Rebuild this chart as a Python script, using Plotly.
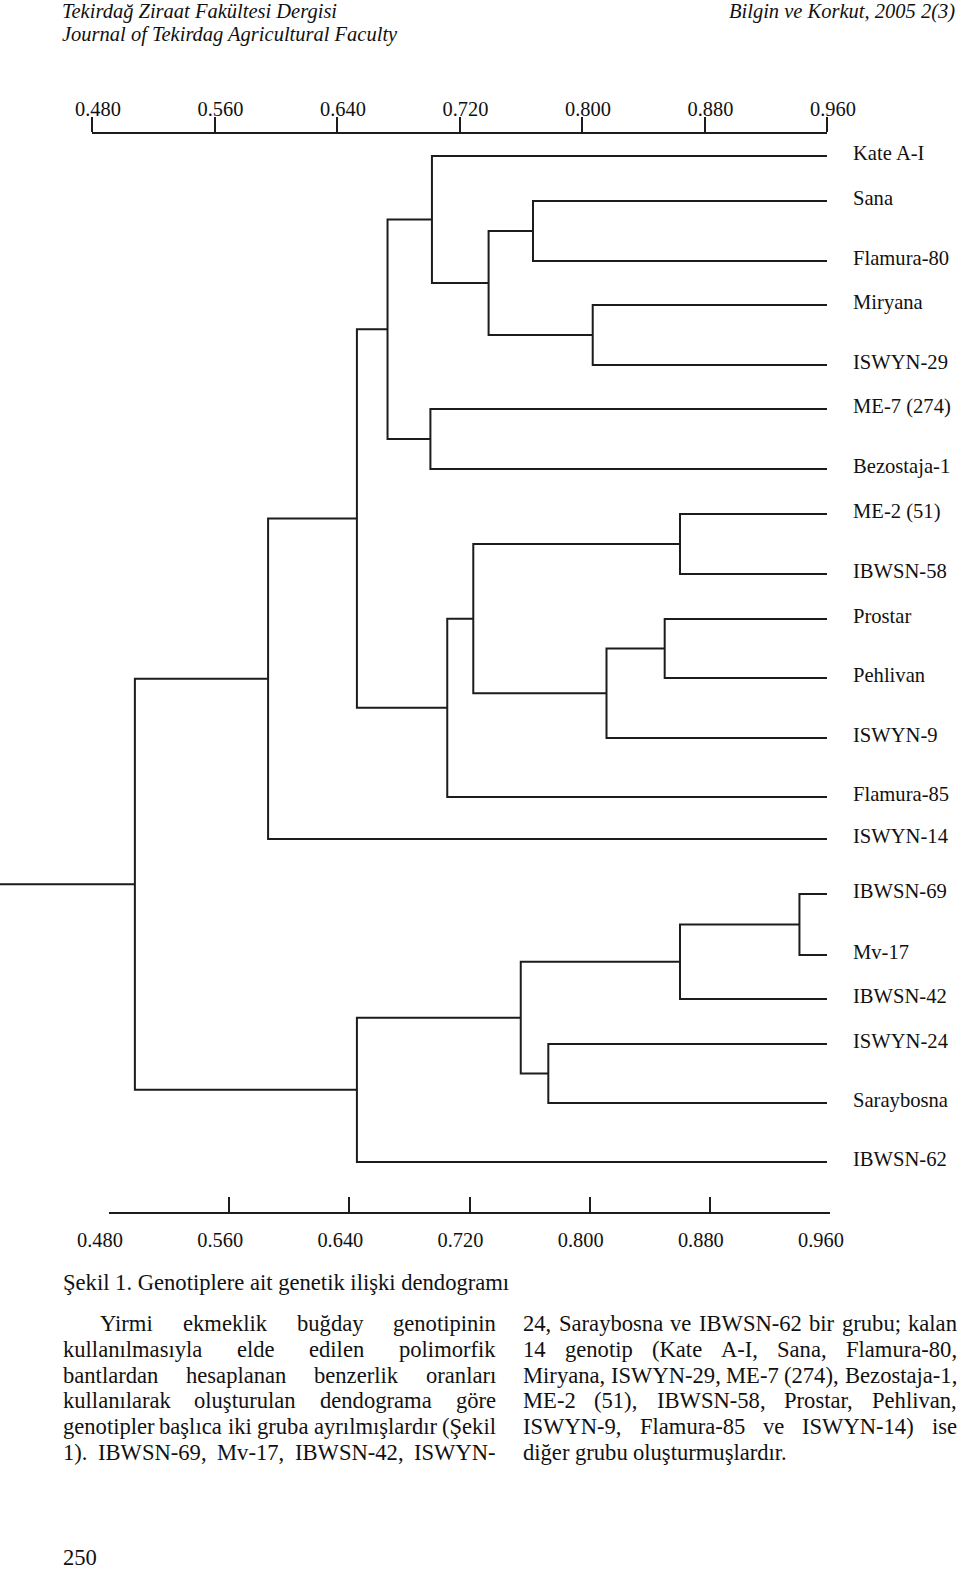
import plotly.graph_objects as go

# ---------------- data ----------------
LEAF_NAMES = ["Kate A-I", "Sana", "Flamura-80", "Miryana", "ISWYN-29", "ME-7 (274)",
              "Bezostaja-1", "ME-2 (51)", "IBWSN-58", "Prostar", "Pehlivan", "ISWYN-9",
              "Flamura-85", "ISWYN-14", "IBWSN-69", "Mv-17", "IBWSN-42", "ISWYN-24",
              "Saraybosna", "IBWSN-62"]
LEAF_SIM = 0.960  # similarity at which leaf branches end

# merges: left child, right child, similarity ("#k" = k-th merge)
MERGE_LEFT = ["Sana", "Miryana", "#0", "Kate A-I", "ME-7 (274)", "#3", "ME-2 (51)",
              "Prostar", "#7", "#6", "#9", "#5", "#11", "IBWSN-69", "#13", "ISWYN-24",
              "#14", "#16", "#12"]
MERGE_RIGHT = ["Flamura-80", "ISWYN-29", "#1", "#2", "Bezostaja-1", "#4", "IBWSN-58",
               "Pehlivan", "ISWYN-9", "#8", "Flamura-85", "#10", "ISWYN-14", "Mv-17",
               "IBWSN-42", "Saraybosna", "#15", "IBWSN-62", "#17"]
MERGE_SIM = [0.768, 0.807, 0.739, 0.702, 0.701, 0.673, 0.864, 0.854, 0.816, 0.729,
             0.712, 0.653, 0.595, 0.942, 0.864, 0.778, 0.760, 0.653, 0.508]

TICK_VALS = [0.48, 0.56, 0.64, 0.72, 0.80, 0.88, 0.96]
TICK_TEXT = ["0.480", "0.560", "0.640", "0.720", "0.800", "0.880", "0.960"]

HEADER_LEFT = ["Tekirdağ Ziraat Fakültesi Dergisi", "Journal of Tekirdag Agricultural Faculty"]
HEADER_RIGHT = "Bilgin ve Korkut, 2005 2(3)"
CAPTION = "Şekil 1. Genotiplere ait genetik ilişki dendogramı"
COL_LEFT = ["Yirmi ekmeklik buğday genotipinin",
            "kullanılmasıyla elde edilen polimorfik",
            "bantlardan hesaplanan benzerlik oranları",
            "kullanılarak oluşturulan dendograma göre",
            "genotipler başlıca iki gruba ayrılmışlardır (Şekil",
            "1). IBWSN-69, Mv-17, IBWSN-42, ISWYN-"]
COL_RIGHT = ["24, Saraybosna ve IBWSN-62 bir grubu; kalan",
             "14 genotip (Kate A-I, Sana, Flamura-80,",
             "Miryana, ISWYN-29, ME-7 (274), Bezostaja-1,",
             "ME-2 (51), IBWSN-58, Prostar, Pehlivan,",
             "ISWYN-9, Flamura-85 ve ISWYN-14) ise",
             "diğer grubu oluşturmuşlardır."]
PAGE_NO = "250"

# ---------------- layout constants ----------------
W, H = 960, 1571
LEAF_ROW_PX = [156, 201, 261, 305, 365, 409, 469, 514, 574, 619, 678, 738, 797, 839,
               894, 955, 999, 1044, 1103, 1162]
TOP_AXIS_PX = (92, 827, 133)      # x of 0.48, x of 0.96, y of axis line
BOT_AXIS_PX = (109, 830, 1213)
BODY_ROWS_PX = [1323, 1349, 1375, 1400, 1426, 1452]
COL_LEFT_SPAN = (62.5, 496)
COL_RIGHT_SPAN = (523, 957)
INDENT = 37
SERIF = "Liberation Serif, Times New Roman, serif"
INK = "#1c1c1c"
TXT = "#111111"
BODY_FS = 22.6

# Times (Liberation Serif) advance widths, 1/1000 em
_TW = {" ": 250, "!": 333, "(": 333, ")": 333, ",": 250, "-": 333, ".": 250, ":": 278,
       ";": 278, "A": 722, "B": 667, "C": 667, "D": 722, "E": 611, "F": 556, "G": 722,
       "H": 722, "I": 333, "J": 389, "K": 722, "L": 611, "M": 889, "N": 722, "O": 722,
       "P": 556, "Q": 722, "R": 667, "S": 556, "T": 611, "U": 722, "V": 722, "W": 944,
       "X": 722, "Y": 722, "Z": 611, "a": 444, "b": 500, "c": 444, "d": 500, "e": 444,
       "f": 333, "g": 500, "h": 500, "i": 278, "j": 278, "k": 500, "l": 278, "m": 778,
       "n": 500, "o": 500, "p": 500, "q": 500, "r": 333, "s": 389, "t": 278, "u": 500,
       "v": 500, "w": 722, "x": 500, "y": 500, "z": 444, "ğ": 500, "ş": 389, "ı": 278,
       "ö": 500, "ü": 500, "Ş": 556, "ç": 444, "İ": 333}
for _d in "0123456789":
    _TW[_d] = 500


def text_w(s, fs):
    return sum(_TW.get(c, 500) for c in s) * fs / 1000.0


px_per = (TOP_AXIS_PX[1] - TOP_AXIS_PX[0]) / (TICK_VALS[-1] - TICK_VALS[0])
X_MIN = TICK_VALS[0] - TOP_AXIS_PX[0] / px_per
X_MAX = TICK_VALS[0] + (W - TOP_AXIS_PX[0]) / px_per


def py(p):
    return 1 - p / H


# ---------------- dendrogram geometry from tree ----------------
leaf_y = dict(zip(LEAF_NAMES, LEAF_ROW_PX))
node_y, node_x = [], []


def child_pos(c):
    if c.startswith("#"):
        k = int(c[1:])
        return node_x[k], node_y[k]
    return LEAF_SIM, leaf_y[c]


xs, ys = [], []
for a, b, s in zip(MERGE_LEFT, MERGE_RIGHT, MERGE_SIM):
    (xa, ya), (xb, yb) = child_pos(a), child_pos(b)
    ym = (ya + yb) / 2
    xs += [xa, s, s, xb, None]
    ys += [ya, ya, yb, yb, None]
    node_x.append(s)
    node_y.append(ym)
# root stub
xs += [node_x[-1], X_MIN, None]
ys += [node_y[-1], node_y[-1], None]

fig = go.Figure()
# dummy traces to register the two scale axes
fig.add_trace(go.Scatter(x=TICK_VALS, y=[None] * len(TICK_VALS), xaxis="x2",
                         mode="markers", showlegend=False, hoverinfo="skip"))
fig.add_trace(go.Scatter(x=TICK_VALS, y=[None] * len(TICK_VALS), xaxis="x3",
                         mode="markers", showlegend=False, hoverinfo="skip"))
fig.add_trace(go.Scatter(x=xs, y=ys, mode="lines", line=dict(color=INK, width=2),
                         hoverinfo="skip", showlegend=False, cliponaxis=False))

ann = []
# leaf labels
for name in LEAF_NAMES:
    ann.append(dict(x=LEAF_SIM, y=leaf_y[name], xref="x", yref="y", text=name,
                    showarrow=False, xanchor="left", yanchor="middle", xshift=24, yshift=3,
                    font=dict(family=SERIF, size=20.6, color=TXT)))

# header
hdr_font = dict(family=SERIF, size=20.5, color=TXT)
for i, t in enumerate(HEADER_LEFT):
    ann.append(dict(x=60 / W, y=py(11 + 23 * i), xref="paper", yref="paper",
                    text="<i>%s</i>" % t, showarrow=False,
                    xanchor="left", yanchor="middle", font=hdr_font))
ann.append(dict(x=957 / W, y=py(11), xref="paper", yref="paper",
                text="<i>%s</i>" % HEADER_RIGHT, showarrow=False,
                xanchor="right", yanchor="middle", font=hdr_font))

body_font = dict(family=SERIF, size=BODY_FS, color=TXT)
ann.append(dict(x=60.5 / W, y=py(1282), xref="paper", yref="paper", text=CAPTION,
                showarrow=False, xanchor="left", yanchor="middle", font=body_font))


def add_justified(lines, span, indent_first, last_justified):
    for i, line in enumerate(lines):
        x0 = span[0] + (INDENT if (i == 0 and indent_first) else 0)
        x1 = span[1]
        words = line.split(" ")
        justify = (i < len(lines) - 1) or last_justified
        if justify and len(words) > 1:
            tot = sum(text_w(w, BODY_FS) for w in words)
            gap = (x1 - x0 - tot) / (len(words) - 1)
        else:
            gap = text_w(" ", BODY_FS)
        x = x0
        for w in words:
            ann.append(dict(x=(x - 2) / W, y=py(BODY_ROWS_PX[i]), xref="paper",
                            yref="paper", text=w, showarrow=False, xanchor="left",
                            yanchor="middle", font=body_font))
            x += text_w(w, BODY_FS) + gap


add_justified(COL_LEFT, COL_LEFT_SPAN, True, True)
add_justified(COL_RIGHT, COL_RIGHT_SPAN, False, False)

ann.append(dict(x=60.5 / W, y=py(1557), xref="paper", yref="paper", text=PAGE_NO,
                showarrow=False, xanchor="left", yanchor="middle", font=body_font))

scale_common = dict(range=[TICK_VALS[0], TICK_VALS[-1]], tickvals=TICK_VALS,
                    ticktext=TICK_TEXT, showline=True, linecolor=INK, linewidth=2,
                    tickcolor=INK, tickwidth=2, ticklen=15, showgrid=False,
                    zeroline=False, anchor="free", fixedrange=True, automargin=False,
                    tickfont=dict(family=SERIF, size=20.4, color=TXT))

fig.update_layout(
    width=W, height=H,
    margin=dict(l=0, r=0, t=0, b=0, pad=0, autoexpand=False),
    paper_bgcolor="white", plot_bgcolor="rgba(0,0,0,0)",
    showlegend=False,
    xaxis=dict(range=[X_MIN, X_MAX], domain=[0, 1], visible=False, fixedrange=True,
               automargin=False),
    yaxis=dict(range=[H, 0], domain=[0, 1], visible=False, fixedrange=True,
               automargin=False),
    xaxis2=dict(domain=[TOP_AXIS_PX[0] / W, TOP_AXIS_PX[1] / W], position=py(TOP_AXIS_PX[2]),
                side="top", ticks="outside", ticklabelshift=6, ticklabelstandoff=-7,
                **scale_common),
    xaxis3=dict(domain=[BOT_AXIS_PX[0] / W, BOT_AXIS_PX[1] / W], position=py(BOT_AXIS_PX[2]),
                side="bottom", ticks="inside", ticklabelshift=-9, ticklabelstandoff=9,
                **scale_common),
    annotations=ann,
)

fig.write_html("out.html", config={"staticPlot": True},
               post_script="document.body.style.margin='0';document.body.style.padding='0';")
